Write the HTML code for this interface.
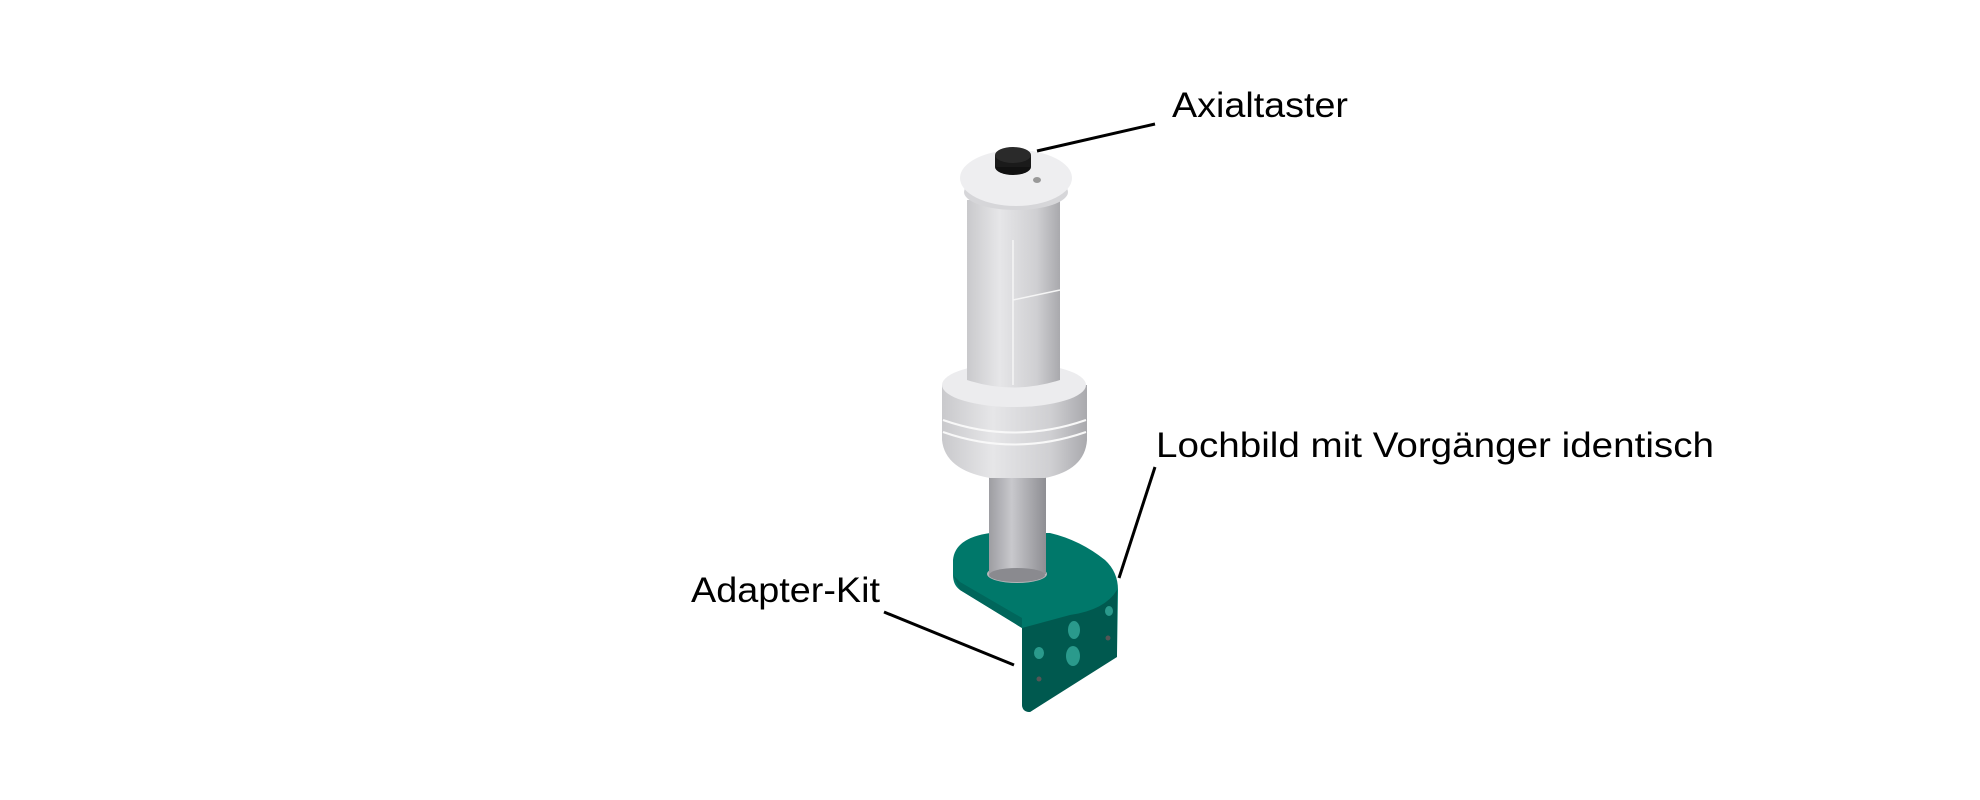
<!DOCTYPE html>
<html><head><meta charset="utf-8"><style>
html,body{margin:0;padding:0;background:#fff;}
svg{display:block;}
text{font-family:"Liberation Sans",sans-serif;font-size:35px;fill:#000;}
</style></head><body>
<svg width="1980" height="800" viewBox="0 0 1980 800" xmlns="http://www.w3.org/2000/svg">
<defs>
<linearGradient id="g" x1="0" x2="1" y1="0" y2="0">
<stop offset="0" stop-color="#c9c9cc"/><stop offset="0.35" stop-color="#e6e6e8"/><stop offset="0.75" stop-color="#cfcfd2"/><stop offset="1" stop-color="#a9a9ad"/>
</linearGradient>
<linearGradient id="gs" x1="0" x2="1" y1="0" y2="0">
<stop offset="0" stop-color="#9d9da2"/><stop offset="0.4" stop-color="#c8c8cc"/><stop offset="1" stop-color="#8e8e93"/>
</linearGradient>
</defs>
<!-- shaft -->
<rect x="989" y="465" width="57" height="112" fill="url(#gs)"/>
<!-- bracket -->
<path d="M953 560 Q955 538 990 533 L1050 533 Q1080 540 1105 560 Q1118 572 1118 590 L1117 655 L1030 712 Q1022 712 1022 704 L1022 628 L960 590 Q953 585 953 575 Z" fill="#00786a"/>
<path d="M1022 628 L1022 704 Q1022 712 1030 712 L1117 657 L1117 590 Q1105 610 1070 615 Z" fill="#00594f"/>
<path d="M953 575 L960 590 L1022 628 L1022 618 L960 582 Z" fill="#00665b"/>
<ellipse cx="1017" cy="574" rx="30" ry="9" fill="#b5b5b9"/>
<rect x="989" y="520" width="57" height="54" fill="url(#gs)"/>
<ellipse cx="1017" cy="575" rx="28" ry="7" fill="#8a8a8f"/>
<ellipse cx="1074" cy="630" rx="6" ry="9" fill="#2a9a8c"/>
<ellipse cx="1073" cy="656" rx="7" ry="10" fill="#2a9a8c"/>
<ellipse cx="1039" cy="653" rx="5" ry="6" fill="#2a9a8c"/>
<ellipse cx="1109" cy="611" rx="4" ry="5" fill="#2a9a8c"/>
<circle cx="1108" cy="638" r="2.5" fill="#555"/>
<circle cx="1039" cy="679" r="2.5" fill="#555"/>
<!-- base disc -->
<path d="M942 385 L942 440 Q945 470 990 478 L1045 478 Q1085 470 1087 440 L1087 385 Z" fill="url(#g)"/>
<ellipse cx="1014" cy="385" rx="72" ry="22" fill="#ececee"/>
<path d="M943 420 Q1014 445 1086 420" stroke="#f8f8f8" stroke-width="2" fill="none"/>
<path d="M943 432 Q1014 457 1086 432" stroke="#f8f8f8" stroke-width="2" fill="none"/>
<!-- grip -->
<path d="M967 200 L967 380 Q1013 395 1060 380 L1060 200 Z" fill="url(#g)"/>
<path d="M1013 240 L1013 385 M1013 300 L1060 290" stroke="#f5f5f5" stroke-width="1.5" fill="none"/>
<!-- cap -->
<ellipse cx="1016" cy="192" rx="52" ry="18" fill="#d6d6d9"/>
<ellipse cx="1016" cy="178" rx="56" ry="28" fill="#eeeef0"/>
<ellipse cx="1013" cy="167" rx="18" ry="8" fill="#111"/>
<rect x="995" y="155" width="36" height="12" fill="#1a1a1a"/>
<ellipse cx="1013" cy="155" rx="18" ry="8" fill="#2a2a2a"/>
<ellipse cx="1037" cy="180" rx="4" ry="3" fill="#999"/>
<!-- leaders -->
<g stroke="#000" stroke-width="3" fill="none">
<line x1="1155" y1="124" x2="1037" y2="151"/>
<line x1="1155" y1="467" x2="1119" y2="578"/>
<line x1="884" y1="612" x2="1014" y2="665"/>
</g>
<text x="1172" y="117" textLength="176" lengthAdjust="spacingAndGlyphs">Axialtaster</text>
<text x="1156" y="457" textLength="558" lengthAdjust="spacingAndGlyphs">Lochbild mit Vorgänger identisch</text>
<text x="691" y="602" textLength="189" lengthAdjust="spacingAndGlyphs">Adapter-Kit</text>
</svg>
</body></html>
